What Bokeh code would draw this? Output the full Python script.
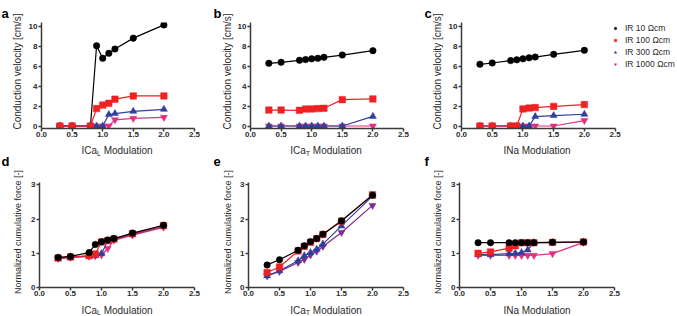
import math
from bokeh.plotting import figure
from bokeh.layouts import column, row
from bokeh.models import Range1d, FixedTicker, PrintfTickFormatter, Legend, LegendItem
from bokeh.core.properties import value
from bokeh.embed import file_html
from bokeh.resources import INLINE

# ---------------- data ----------------
x_mod = [0.3, 0.5, 0.8, 0.9, 1.0, 1.1, 1.2, 1.5, 2.0]
series_names = ["IR 10 \u03a9cm", "IR 100 \u03a9cm", "IR 300 \u03a9cm", "IR 1000 \u03a9cm"]

# conduction velocity [cm/s]
cv_ical_ir10 = [0, 0, 0, 8.06, 6.8, 7.3, 7.73, 8.83, 10.16]
cv_ical_ir100 = [0, 0, 0, 1.75, 2.1, 2.28, 2.7, 3.02, 3.02]
cv_ical_ir300 = [0, 0, 0, 0, 0, 1.15, 1.25, 1.48, 1.68]
cv_ical_ir1000 = [0, 0, 0, 0, 0, 0, 0.62, 0.77, 0.87]

cv_icat_ir10 = [6.3, 6.4, 6.6, 6.67, 6.75, 6.8, 6.9, 7.13, 7.57]
cv_icat_ir100 = [1.6, 1.6, 1.58, 1.7, 1.72, 1.75, 1.78, 2.65, 2.72]
cv_icat_ir300 = [0, 0, 0, 0, 0, 0, 0, 0, 0.97]
cv_icat_ir1000 = [0, 0, 0, 0, 0, 0, 0, 0, 0]

cv_ina_ir10 = [6.2, 6.33, 6.57, 6.65, 6.75, 6.85, 6.93, 7.2, 7.6]
cv_ina_ir100 = [0, 0, 0, 0, 1.72, 1.8, 1.85, 1.97, 2.15]
cv_ina_ir300 = [0, 0, 0, 0, 0, 0, 0.95, 1.05, 1.18]
cv_ina_ir1000 = [0, 0, 0, 0, 0, 0, 0, 0, 0.55]

# normalized cumulative force [-]
f_ical_ir10 = [0.88, 0.91, 1.02, 1.26, 1.34, 1.39, 1.43, 1.59, 1.82]
f_ical_ir100 = [0.86, 0.89, 0.93, 0.98, 1.33, 1.37, 1.42, 1.57, 1.81]
f_ical_ir300 = [0.85, 0.88, 0.92, 0.93, 0.99, 1.36, 1.41, 1.55, 1.79]
f_ical_ir1000 = [0.85, 0.88, 0.91, 0.92, 0.95, 1.14, 1.38, 1.53, 1.76]

f_icat_ir10 = [0.66, 0.81, 1.09, 1.22, 1.34, 1.43, 1.56, 1.95, 2.7]
f_icat_ir100 = [0.44, 0.6, 1.07, 1.2, 1.32, 1.43, 1.55, 1.94, 2.71]
f_icat_ir300 = [0.34, 0.49, 0.78, 0.93, 1.02, 1.12, 1.27, 1.8, 2.67]
f_icat_ir1000 = [0.34, 0.47, 0.73, 0.82, 0.95, 1.06, 1.2, 1.61, 2.4]

f_ina_ir10 = [1.31, 1.31, 1.31, 1.31, 1.31, 1.31, 1.31, 1.32, 1.33]
f_ina_ir100 = [1.0, 1.04, 1.15, 1.22, 1.31, 1.31, 1.31, 1.32, 1.33]
f_ina_ir300 = [0.96, 0.96, 0.99, 1.0, 1.02, 1.1, 1.31, 1.31, 1.33]
f_ina_ir1000 = [0.94, 0.94, 0.94, 0.94, 0.94, 0.94, 0.94, 0.99, 1.32]

x_ticks = [0.0, 0.5, 1.0, 1.5, 2.0, 2.5]
cv_ticks = [0, 2, 4, 6, 8, 10]
f_ticks = [0, 1, 2, 3]

cv_title = "Conduction velocity [cm/s]"
f_title = "Normalized cumulative force [-]"

# ---------------- style ----------------
FONT = "Liberation Sans"
AXIS_COLOR = "#3a3a3a"
TEXT_COLOR = "#2a2a2a"
BLACK = "#000000"
RED = "#ee2222"
BLUE = "#2f3f9e"
MAGENTA = "#e0307f"
PURPLE = "#7d2a90"
MARKERS = ["circle", "square", "triangle", "inverted_triangle"]
SIZES = [6.5, 6.5, 7, 7]

ARIAL_W = {' ': 278, 'I': 278, 'C': 722, 'a': 556, 'L': 556, 'T': 611, 'N': 722,
           'M': 833, 'o': 556, 'd': 556, 'u': 556, 'l': 222, 't': 278, 'i': 222, 'n': 556}

PX_PER_X = 62.0          # horizontal scale: 2.5 units over a 155 px frame
FRAME_W = 155


def text_w(s, size):
    return sum(ARIAL_W.get(c, 556) for c in s) * size / 1000.0


def text_fig(w, h):
    f = figure(width=w, height=h, x_range=Range1d(0, w), y_range=Range1d(0, h),
               x_axis_type=None, y_axis_type=None, min_border=0,
               min_border_left=0, min_border_right=0, min_border_top=0, min_border_bottom=0,
               output_backend="svg", toolbar_location=None, title=None, frame_align=False)
    f.outline_line_color = None
    f.background_fill_color = "white"
    f.border_fill_color = "white"
    return f


def add_text(f, x, y, s, size, bold=False, angle=0.0, align="left", baseline="alphabetic",
             color=TEXT_COLOR):
    f.text(x=[x], y=[y], text=[s], text_font=value(FONT), text_font_size=value("%gpx" % size),
           text_font_style=value("bold" if bold else "normal"), angle=angle,
           text_align=value(align), text_baseline=value(baseline), text_color=color)


def plot_fig(w, h, bl, br, bt, bb, yr, yticks, series, colors, order):
    frame_w = w - bl - br
    p = figure(width=w, height=h, min_border=0, min_border_left=bl, min_border_right=br,
               min_border_top=bt, min_border_bottom=bb,
               x_range=Range1d(0, frame_w / PX_PER_X), y_range=Range1d(*yr), frame_align=False,
               output_backend="svg", toolbar_location=None, title=None)
    p.outline_line_color = None
    p.xgrid.visible = False
    p.ygrid.visible = False
    p.background_fill_color = "white"
    p.border_fill_color = "white"
    for ax in (p.xaxis[0], p.yaxis[0]):
        ax.axis_line_color = AXIS_COLOR
        ax.axis_line_width = 1.5
        ax.major_tick_line_color = AXIS_COLOR
        ax.major_tick_line_width = 1.5
        ax.major_tick_out = 3
        ax.major_tick_in = 0
        ax.minor_tick_line_color = None
        ax.major_label_text_font = FONT
        ax.major_label_text_font_size = "8px"
        ax.major_label_text_font_style = "bold"
        ax.major_label_text_color = TEXT_COLOR
    p.xaxis[0].major_label_standoff = 0
    p.yaxis[0].major_label_standoff = 1
    p.xaxis[0].bounds = (x_ticks[0], x_ticks[-1])
    p.xaxis[0].ticker = FixedTicker(ticks=x_ticks)
    p.xaxis[0].formatter = PrintfTickFormatter(format="%.1f")
    p.yaxis[0].ticker = FixedTicker(ticks=yticks)
    renderers = {}
    for i in order:
        ys = series[i]
        p.line(x_mod, ys, line_color=colors[i], line_width=1.2)
        renderers[i] = p.scatter(x_mod, ys, marker=MARKERS[i], size=SIZES[i],
                                 fill_color=colors[i], line_color=colors[i], line_width=0.5)
    return p, renderers


def xtitle_fig(w, h, center_x, base_row, main, sub):
    f = text_fig(w, h)
    if sub:
        parts = [(main, 10, 0), (sub, 7, -2.7), (" Modulation", 10, 0)]
    else:
        parts = [(main + " Modulation", 10, 0)]
    total = sum(text_w(s, sz) for s, sz, _ in parts)
    cx = center_x - total / 2.0
    for s, sz, dy in parts:
        lead = len(s) - len(s.lstrip(" "))
        cx += text_w(" " * lead, sz)
        body = s.lstrip(" ")
        add_text(f, cx, h - base_row + dy, body, sz)
        cx += text_w(body, sz)
    return f


def left_strip(w, letter_top, letter_bot, lx):
    H = 316
    f = text_fig(w, H)
    add_text(f, lx, H - 12.5, letter_top, 13, bold=True, color="black")
    add_text(f, lx, H - 161, letter_bot, 13, bold=True, color="black")
    add_text(f, 17, H - 71, cv_title, 10, angle=math.pi / 2, align="center", baseline="middle")
    add_text(f, 17, H - 231.5, f_title, 9, angle=math.pi / 2, align="center", baseline="middle")
    return f


cols_std = [BLACK, RED, BLUE, MAGENTA]
cols_e = [BLACK, RED, BLUE, PURPLE]
order_std = [3, 2, 1, 0]
order_a = [0, 3, 2, 1]

# vertical plan (px): top plot 0..141, top title 141..157, bottom plot 157..300, bottom title 300..316
TP_H, TT_H, BP_H, BT_H = 141, 16, 143, 16
cv_range = (-0.25, 10.4)
f_range = (0, 3.07)
TOP_B = dict(bt=22, bb=13)
BOT_B = dict(bt=25, bb=13)
TOP_BASE, BOT_BASE = 9.0, 9.5

# ---- column a/d ----
pa, _ = plot_fig(185, TP_H, 14, 16, TOP_B["bt"], TOP_B["bb"], cv_range, cv_ticks,
                 [cv_ical_ir10, cv_ical_ir100, cv_ical_ir300, cv_ical_ir1000], cols_std, order_a)
pd, _ = plot_fig(185, BP_H, 14, 16, BOT_B["bt"], BOT_B["bb"], f_range, f_ticks,
                 [f_ical_ir10, f_ical_ir100, f_ical_ir300, f_ical_ir1000], cols_std, order_std)
ta = xtitle_fig(185, TT_H, 14 + FRAME_W / 2, TOP_BASE, "ICa", "L")
td = xtitle_fig(185, BT_H, 14 + FRAME_W / 2, BOT_BASE, "ICa", "L")
col_a = row(left_strip(25, "a", "d", 1), column(pa, ta, pd, td, spacing=0), spacing=0)

# ---- column b/e ----
pb, _ = plot_fig(186, TP_H, 14, 17, TOP_B["bt"], TOP_B["bb"], cv_range, cv_ticks,
                 [cv_icat_ir10, cv_icat_ir100, cv_icat_ir300, cv_icat_ir1000], cols_std, order_std)
pe, _ = plot_fig(186, BP_H, 14, 17, BOT_B["bt"], BOT_B["bb"], f_range, f_ticks,
                 [f_icat_ir10, f_icat_ir100, f_icat_ir300, f_icat_ir1000], cols_e, order_std)
tb = xtitle_fig(186, TT_H, 14 + FRAME_W / 2, TOP_BASE, "ICa", "T")
te = xtitle_fig(186, BT_H, 14 + FRAME_W / 2, BOT_BASE, "ICa", "T")
col_b = row(left_strip(24, "b", "e", 3), column(pb, tb, pe, te, spacing=0), spacing=0)

# ---- column c/f ----
pc, rc = plot_fig(232, TP_H, 14, 0, TOP_B["bt"], TOP_B["bb"], cv_range, cv_ticks,
                  [cv_ina_ir10, cv_ina_ir100, cv_ina_ir300, cv_ina_ir1000], cols_std, order_std)
pf, _ = plot_fig(232, BP_H, 14, 63, BOT_B["bt"], BOT_B["bb"], f_range, f_ticks,
                 [f_ina_ir10, f_ina_ir100, f_ina_ir300, f_ina_ir1000], cols_std, order_std)
tc = xtitle_fig(232, TT_H, 14 + FRAME_W / 2, TOP_BASE, "INa", "")
tf = xtitle_fig(232, BT_H, 14 + FRAME_W / 2, BOT_BASE, "INa", "")

legend = Legend(items=[LegendItem(label=series_names[i], renderers=[rc[i]]) for i in range(4)],
                location=(151, 58), glyph_width=6, glyph_height=12, label_height=12,
                label_standoff=7, spacing=0, padding=0, margin=0,
                border_line_color=None, background_fill_alpha=0,
                label_text_font=FONT, label_text_font_size="8.5px",
                label_text_color=TEXT_COLOR)
pc.add_layout(legend)

col_c = row(left_strip(25, "c", "f", 4), column(pc, tc, pf, tf, spacing=0), spacing=0)

layout = row(col_a, col_b, col_c, spacing=0)
open("out.html", "w").write(file_html(layout, INLINE))
